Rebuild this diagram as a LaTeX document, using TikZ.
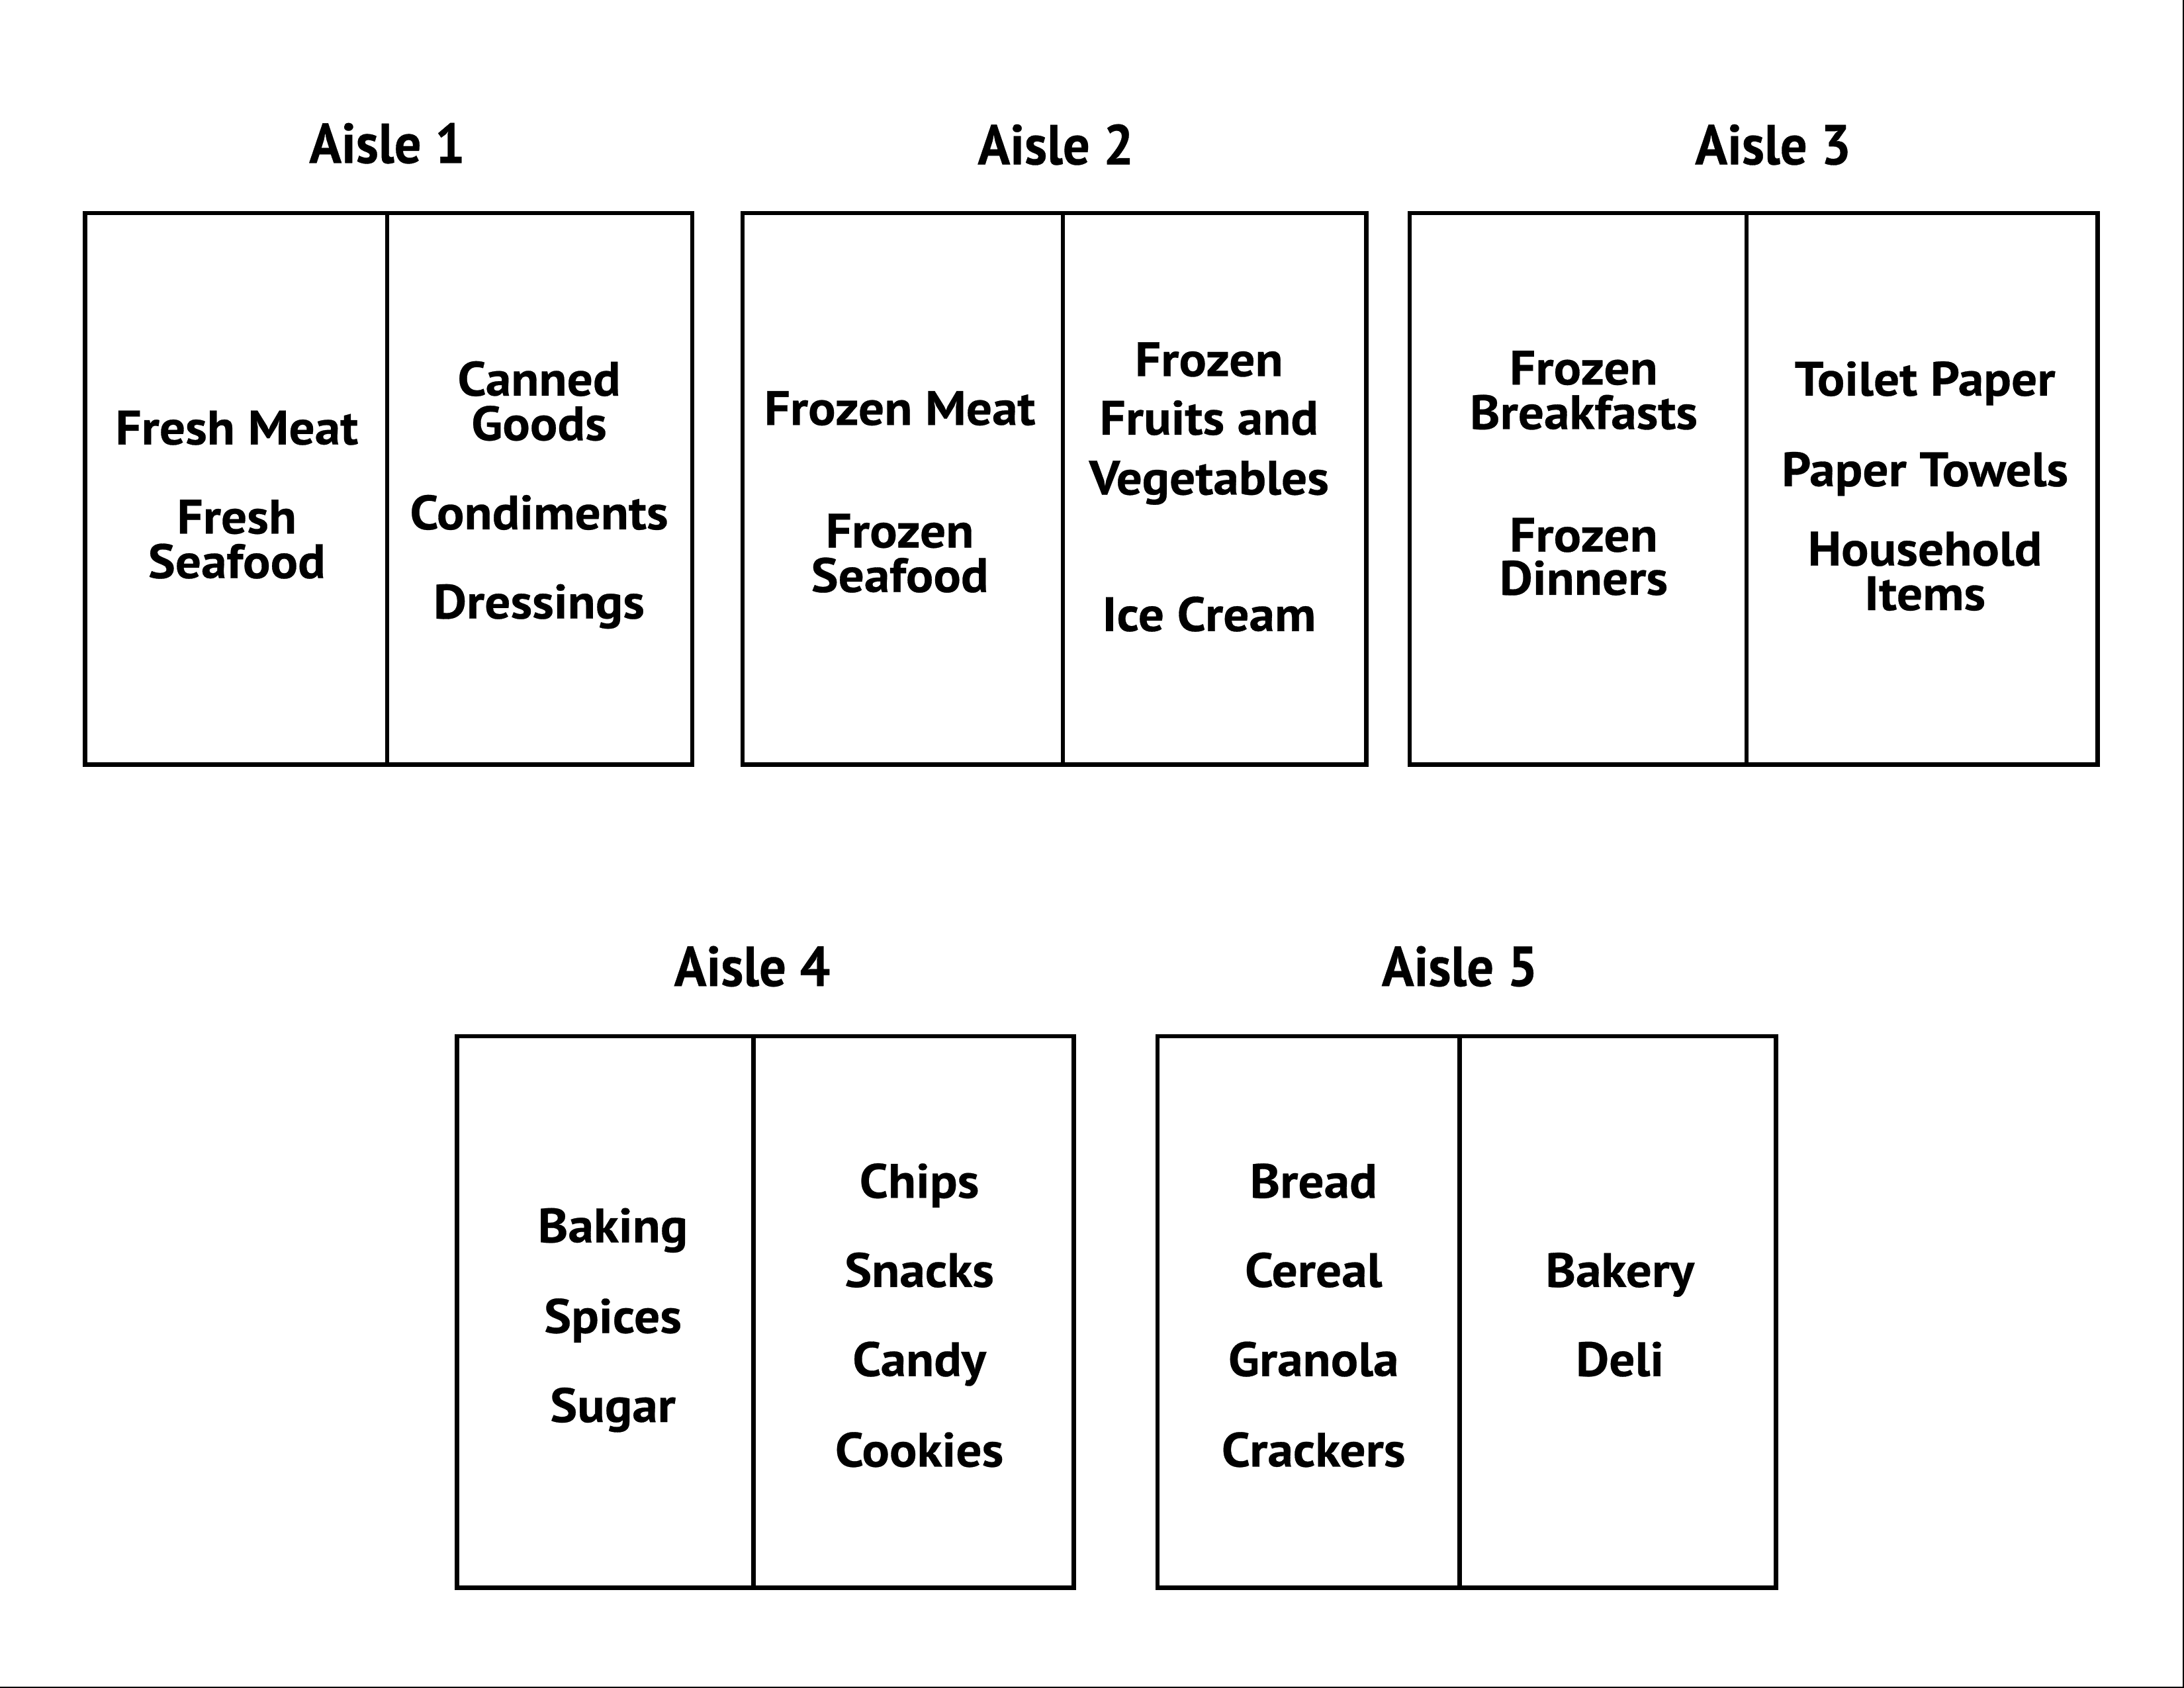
\documentclass[tikz,border=0pt]{standalone}
\usepackage{fontspec}
\setmainfont{PT Sans}
\newfontfamily\itemfont[FakeStretch=1.06,FakeBold=0.4]{PT Sans}
\newfontfamily\titlefont[FakeStretch=0.95,FakeBold=0.4]{PT Sans}
\begin{document}
\begin{tikzpicture}[x=2.1046pt,y=-2.1046pt,
  shelf/.style={line width=6.5pt, line join=miter},
  edge/.style={line width=4pt},
  item/.style={font=\itemfont\bfseries\fontsize{73}{80}\selectfont, anchor=base, yshift=-25.5pt, inner sep=0pt},
  title/.style={font=\titlefont\bfseries\fontsize{85}{90}\selectfont, anchor=base, yshift=-29.5pt, inner sep=0pt}]
\useasboundingbox (0,0) rectangle (1568,1212);
\fill[white] (0,0) rectangle (1568,1212);
\draw[edge] (1568,0) -- (1568,1212) -- (0,1212);

% Aisle 1
\node[title] (t1) at (278,103) {Aisle 1};
\draw[shelf] (61,153) rectangle (497,549);
\draw[shelf] (278,153) -- (278,549);
\node[item] (a1a) at (170,307) {Fresh Meat};
\node[item] (a1b) at (170,371) {Fresh};
\node[item] (a1c) at (170,403) {Seafood};
\node[item] (a1d) at (387,272) {Canned};
\node[item] (a1e) at (387,304) {Goods};
\node[item] (a1f) at (387,368) {Condiments};
\node[item] (a1g) at (387,432) {Dressings};

% Aisle 2
\node[title] (t2) at (758,104) {Aisle 2};
\draw[shelf] (533,153) rectangle (981,549);
\draw[shelf] (763,153) -- (763,549);
\node[item] (a2a) at (646,293) {Frozen Meat};
\node[item] (a2b) at (646,381) {Frozen};
\node[item] (a2c) at (646,413) {Seafood};
\node[item] (a2d) at (868,258) {Frozen};
\node[item] (a2e) at (868,300) {Fruits and};
\node[item] (a2f) at (868,343) {Vegetables};
\node[item] (a2g) at (868,441) {Ice Cream};

% Aisle 3
\node[title] (t3) at (1273,104) {Aisle 3};
\draw[shelf] (1012,153) rectangle (1506,549);
\draw[shelf] (1254,153) -- (1254,549);
\node[item] (a3a) at (1137,264) {Frozen};
\node[item] (a3b) at (1137,296) {Breakfasts};
\node[item] (a3c) at (1137,384) {Frozen};
\node[item] (a3d) at (1137,415) {Dinners};
\node[item] (a3e) at (1382,272) {Toilet Paper};
\node[item] (a3f) at (1382,337) {Paper Towels};
\node[item] (a3g) at (1382,394) {Household};
\node[item] (a3h) at (1382,426) {Items};

% Aisle 4
\node[title] (t4) at (540,694) {Aisle 4};
\draw[shelf] (328,744) rectangle (771,1140);
\draw[shelf] (541,744) -- (541,1140);
\node[item] (a4a) at (440,880) {Baking};
\node[item] (a4b) at (440,945) {Spices};
\node[item] (a4c) at (440,1009) {Sugar};
\node[item] (a4d) at (660,848) {Chips};
\node[item] (a4e) at (660,912) {Snacks};
\node[item] (a4f) at (660,976) {Candy};
\node[item] (a4g) at (660,1041) {Cookies};

% Aisle 5
\node[title] (t5) at (1048,694) {Aisle 5};
\draw[shelf] (831,744) rectangle (1275,1140);
\draw[shelf] (1048,744) -- (1048,1140);
\node[item] (a5a) at (943,848) {Bread};
\node[item] (a5b) at (943,912) {Cereal};
\node[item] (a5c) at (943,976) {Granola};
\node[item] (a5d) at (943,1041) {Crackers};
\node[item] (a5e) at (1163,912) {Bakery};
\node[item] (a5f) at (1163,976) {Deli};
\end{tikzpicture}
\end{document}
